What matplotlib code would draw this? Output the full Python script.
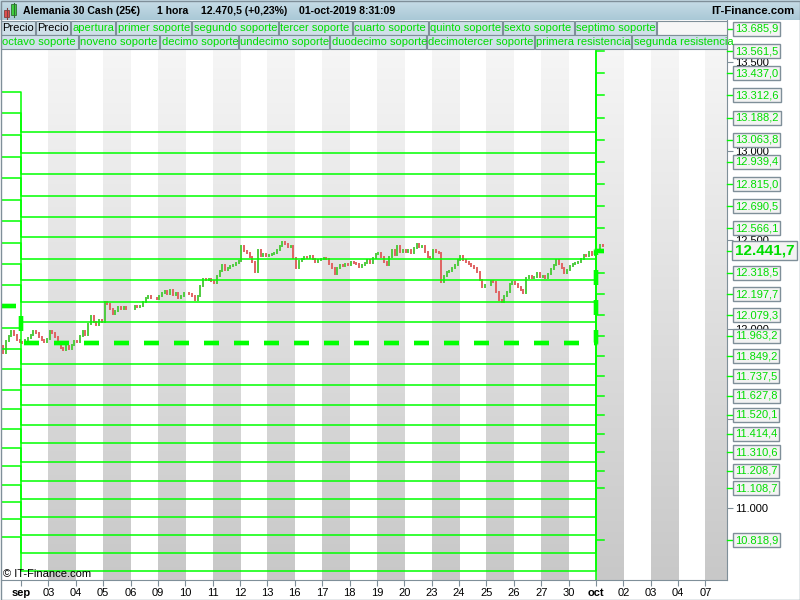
import numpy as np
import matplotlib.pyplot as plt
import matplotlib.transforms as mtransforms
from matplotlib.patches import Rectangle
from matplotlib.colors import LinearSegmentedColormap

plt.rcParams['font.family'] = ['Liberation Sans', 'DejaVu Sans']
plt.rcParams['lines.scale_dashes'] = False

# etiquetas del eje x (indice 0 = 2 sep)
day_labels = ['sep', '03', '04', '05', '06', '09', '10', '11', '12', '13', '16', '17', '18',
              '19', '20', '23', '24', '25', '26', '27', '30', 'oct', '02', '03', '04', '07']
grey_days = [1, 3, 5, 7, 9, 11, 13, 15, 17, 19, 21, 23, 25]

# cierres horarios (aprox. 10 velas por dia)
aug30 = [11890, 11880, 11905, 11870, 11935, 11963, 11990, 11968, 11940, 11929]
week1 = [11922, 11940, 11951, 11968, 11990, 11979, 11956, 11940, 11929, 11945,
         11990, 11979, 11956, 11922, 11894, 11883, 11906, 11889, 11911, 11934,
         11929, 11963, 11990, 11968, 12029, 12074, 12040, 12023, 12051, 12040,
         12151, 12140, 12117, 12089, 12106, 12123, 12112, 12128, 12112, 12117,
         12117, 12134, 12123, 12134, 12151, 12174, 12185, 12174, 12179, 12168]
week2 = [12185, 12202, 12213, 12196, 12219, 12191, 12202, 12179, 12185, 12202,
         12207, 12196, 12185, 12163, 12185, 12241, 12280, 12275, 12280, 12269,
         12263, 12297, 12325, 12364, 12336, 12342, 12353, 12364, 12375, 12381,
         12468, 12440, 12428, 12406, 12378, 12322, 12445, 12412, 12423, 12412,
         12417, 12423, 12428, 12445, 12468, 12490, 12479, 12462, 12468, 12400]
week3 = [12344, 12384, 12395, 12406, 12400, 12412, 12395, 12378, 12389, 12395,
         12400, 12395, 12367, 12344, 12311, 12344, 12361, 12356, 12367, 12361,
         12378, 12372, 12367, 12350, 12361, 12372, 12389, 12372, 12400, 12423,
         12428, 12406, 12378, 12361, 12406, 12445, 12417, 12468, 12434, 12445,
         12434, 12445, 12428, 12456, 12479, 12462, 12468, 12434, 12406, 12400]
week4 = [12445, 12434, 12428, 12266, 12300, 12322, 12328, 12344, 12361, 12389,
         12411, 12389, 12378, 12367, 12356, 12344, 12322, 12277, 12238, 12249,
         12249, 12272, 12266, 12210, 12165, 12154, 12188, 12210, 12255, 12266,
         12255, 12238, 12221, 12204, 12288, 12300, 12288, 12294, 12316, 12294,
         12300, 12288, 12311, 12339, 12361, 12389, 12367, 12344, 12316, 12333]
sep30 = [12355, 12367, 12372, 12378, 12395, 12417, 12411, 12434, 12417, 12428]
oct1 = [12445, 12475, 12470.5]

# niveles: agosto / septiembre / octubre
apertura = [12131.9, 11922.1, 12441.7]
res_aug = [12246.9, 12367.4, 12484.7, 12606.9, 12725.8, 12847.0, 12969.2, 13088.1, 13211.0, 13329.9]
res_sep = [12039.3, 12156.5, 12274.9, 12396.0, 12516.6, 12631.6, 12748.3, 12869.4, 12990.0, 13107.2]
res_oct = [12566.1, 12690.5, 12815.0, 12939.4, 13063.8, 13188.2, 13312.6, 13437.0, 13561.5, 13685.9]
sop_aug = [12009.1, 11888.5, 11776.9, 11660.2, 11554.2, 11443.2, 11337.7, 11234.0, 11130.2,
           11032.1, 10935.6, 10835.8, 10550.0]
sop_sep = [11805.5, 11688.3, 11575.0, 11465.6, 11360.2, 11254.7, 11152.6, 11050.6, 10946.8,
           10847.0, 10748.8, 10645.1, 10540.0]
sop_oct = [12318.5, 12197.7, 12079.3, 11963.2, 11849.2, 11737.5, 11627.8, 11520.1, 11414.4,
           11310.6, 11208.7, 11108.7, 10818.9]

legend_row1 = ['Precio', 'Precio', 'apertura', 'primer soporte', 'segundo soporte', 'tercer soporte',
               'cuarto soporte', 'quinto soporte', 'sexto soporte', 'septimo soporte', '']
legend_row2 = ['octavo soporte', 'noveno soporte', 'decimo soporte', 'undecimo soporte',
               'duodecimo soporte', 'decimotercer soporte', 'primera resistencia', 'segunda resistencia']
edges_row1 = [0, 35, 70, 115, 191, 278, 352, 428, 502, 574, 656, 727]
edges_row2 = [0, 78, 159, 238, 329, 426, 534, 631, 740]

GREEN = '#00ff00'
TXT_GREEN = '#00dd00'
GREY = '#7f8f99'


def es(v):
    s = f'{v:,.1f}'
    return s.replace(',', '#').replace('.', ',').replace('#', '.')


fig = plt.figure(figsize=(8, 6), dpi=100)
ax = fig.add_axes([1 / 800, 20 / 600, 726 / 800, 560 / 600])
day_w = 27.38
x_lo, x_hi = -20 / day_w, 706 / day_w
y_lo, y_hi = 10594.6, 13735.4

# bandas grises
grad = np.linspace(0, 1, 256).reshape(-1, 1)
cmap = LinearSegmentedColormap.from_list('band', ['#f8f8f8', '#c8c8c8'])
for d in grey_days:
    ax.imshow(grad, cmap=cmap, extent=(d, d + 1, y_lo, y_hi), aspect='auto', zorder=0)

# velas
segments = [(-1, aug30), (0, week1), (5, week2), (10, week3), (15, week4), (20, sep30), (21, oct1)]
xs, closes = [], []
for start, vals in segments:
    for k, c in enumerate(vals):
        xs.append(start + k // 10 + (k % 10 + 0.5) / 10)
        closes.append(c)
opens = [11900] + closes[:-1]
lo = np.minimum(opens, closes)
hi = np.maximum(opens, closes)
cols = ['#4fcc3f' if c >= o else '#e06262' for o, c in zip(opens, closes)]
ax.vlines(xs, lo, hi, colors=cols, lw=1.4, capstyle='projecting', zorder=4)

# soportes y resistencias (escalones por mes)
steps_x = [x_lo, 0, 21, 21.3]
for a, s, o in zip(res_aug + sop_aug, res_sep + sop_sep, res_oct + sop_oct):
    ax.plot(steps_x, [a, s, o, o], drawstyle='steps-post', color=GREEN, lw=1.1, zorder=5)
ap = apertura + [apertura[-1]]
ax.plot(steps_x, ap, drawstyle='steps-post', color=GREEN, lw=4.3, alpha=0.3,
        linestyle=(0, (10.8, 10.8)), zorder=5)
ax.plot(steps_x, ap, drawstyle='steps-post', color=GREEN, lw=2.9,
        linestyle=(0, (10.8, 10.8)), zorder=6)

ax.set_xlim(x_lo, x_hi)
ax.set_ylim(y_lo, y_hi)

# ejes
ax.yaxis.tick_right()
yt = [11000, 11500, 12000, 12500, 13000, 13500]
ax.set_yticks(yt)
ax.set_yticklabels([f'{v:,}'.replace(',', '.') for v in yt])
ax.tick_params(axis='y', length=4.3, color=GREY, labelsize=8, pad=1.5)
ax.set_xticks(range(len(day_labels)))
ax.set_xticklabels(day_labels)
for t in ax.get_xticklabels():
    if t.get_text() in ('sep', 'oct'):
        t.set_fontweight('bold')
ax.tick_params(axis='x', length=4, color=GREY, labelsize=8, pad=2)
for side in ('top', 'left'):
    ax.spines[side].set_visible(False)
for side in ('right', 'bottom'):
    ax.spines[side].set_color(GREY)

trans = mtransforms.blended_transform_factory(ax.transAxes, ax.transData)
for v in res_oct + sop_oct + [apertura[-1]]:
    ax.plot([1, 1 + 6 / 726], [v, v], color=GREEN, lw=1, transform=trans, clip_on=False, zorder=6)
    big = v == apertura[-1]
    ax.text(1 + 8 / 726, v, es(v), transform=trans, va='center', ha='left',
            fontsize=11 if big else 8, fontweight='bold' if big else 'normal',
            color=TXT_GREEN, clip_on=False, zorder=7,
            bbox=dict(boxstyle='square,pad=0.18', fc='#f3f3f3', ec=GREY, lw=1))

# cabecera
hd = fig.add_axes([0, 580 / 600, 1, 20 / 600])
hd.imshow(grad, cmap=LinearSegmentedColormap.from_list('hd', ['#c8dde7', '#a9c8d6']),
          extent=(0, 800, 20, 0), aspect='auto')
hd.set_xlim(0, 800)
hd.set_ylim(20, 0)
hd.axis('off')
hd.add_patch(Rectangle((4, 10), 5, 7, fc='#e05050', ec='#804040', lw=0.6))
hd.plot([6.5, 6.5], [8, 19], color='#804040', lw=0.8)
hd.add_patch(Rectangle((11, 4), 5, 11, fc='#40d040', ec='#307030', lw=0.6))
hd.plot([13.5, 13.5], [2.5, 17], color='#307030', lw=0.8)
for xp, s in [(23, 'Alemania 30 Cash (25€)'), (157, '1 hora'), (201, '12.470,5 (+0,23%)'),
              (299, '01-oct-2019 8:31:09')]:
    hd.text(xp, 11, s, va='center', ha='left', fontsize=7.6, fontweight='bold')
hd.text(795, 11, 'IT-Finance.com', va='center', ha='right', fontsize=8.2, fontweight='bold')

# leyenda y marco
ov = fig.add_axes([0, 0, 1, 1], zorder=10)
ov.set_xlim(0, 800)
ov.set_ylim(600, 0)
ov.axis('off')
ov.patch.set_visible(False)
for labels, edges, y0 in [(legend_row1, edges_row1, 20.5), (legend_row2, edges_row2, 34.5)]:
    for i, lab in enumerate(labels):
        x0, x1 = edges[i], min(edges[i + 1], 727)
        fc = '#f6f6f6' if lab == '' else '#cfe0e8'
        r = Rectangle((x0 + 0.5, y0), x1 - x0 - 1, 14, fc=fc, ec=GREY, lw=0.8)
        ov.add_patch(r)
        t = ov.text(x0 + 2.5, y0 + 7.2, lab, va='center', ha='left', fontsize=8,
                    color='black' if lab == 'Precio' else TXT_GREEN)
        t.set_clip_path(r)
ov.text(3, 574, '© IT-Finance.com', va='center', ha='left', fontsize=8)
ov.add_patch(Rectangle((0.5, 0.5), 799, 599, fill=False, ec=GREY, lw=1))

fig.savefig('out.png', dpi=100)
